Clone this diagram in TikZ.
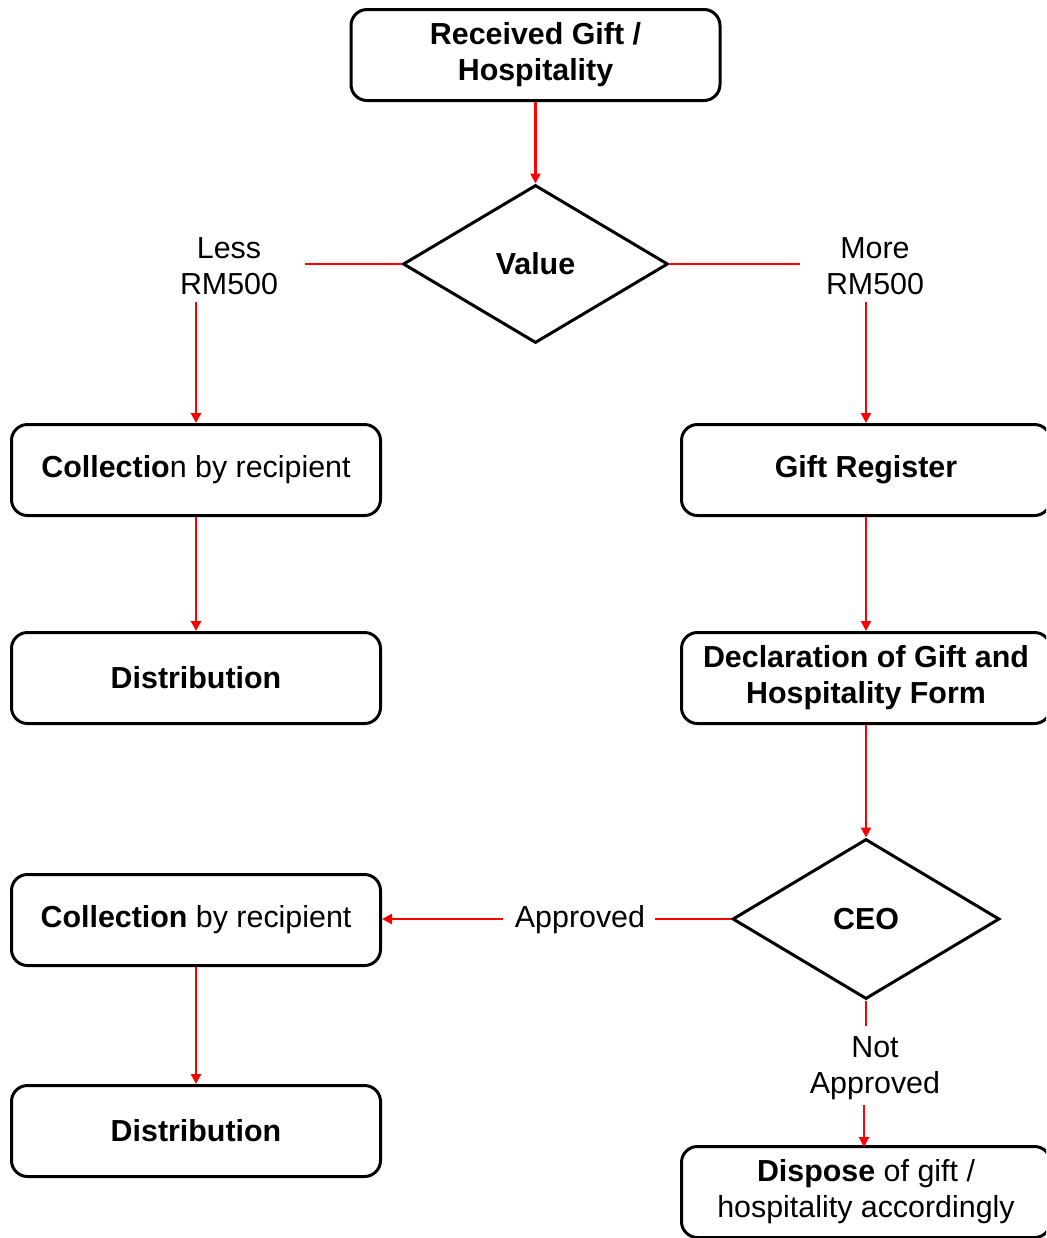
\documentclass[tikz,border=0pt]{standalone}
\usepackage{fontspec}
\setmainfont{Liberation Sans}
\usetikzlibrary{shapes.geometric,arrows.meta}
\begin{document}
\begin{tikzpicture}[x=0.5pt,y=-0.5pt,
  box/.style={draw=black,line width=1.5pt,rounded corners=8pt,fill=white,
    minimum width=184.5pt,minimum height=45.5pt,inner sep=0pt,align=center,
    font=\fontsize{15.2}{18}\selectfont},
  dec/.style={draw=black,line width=1.5pt,diamond,inner sep=0pt,
    font=\fontsize{15.2}{18}\selectfont\bfseries},
  lbl/.style={align=center,inner sep=0pt,font=\fontsize{15.2}{18}\selectfont},
  conn/.style={draw=red,line width=1.4pt},
  arr/.style={conn,-{Triangle[length=5pt,width=5pt]}}]
\useasboundingbox (0,0) rectangle (1046,1238);
\clip (0,0) rectangle (1046,1238);
% nodes
\node[box] (recv) at (535.5,55) {\textbf{Received Gift /}\\\textbf{Hospitality}};
\node[dec,minimum width=132.5pt,minimum height=79pt] (value) at (535.5,264) {Value};
\node[lbl] (less) at (229,266) {Less\\RM500};
\node[lbl] (more) at (875,266) {More\\RM500};
\node[box] (coll1) at (196,470) {\textbf{Collectio}n by recipient};
\node[box] (dist1) at (196,678) {\textbf{Distribution}};
\node[box] (greg) at (866,470) {\textbf{Gift Register}};
\node[box] (decl) at (866,678) {\textbf{Declaration of Gift and}\\\textbf{Hospitality Form}};
\node[dec,minimum width=133.5pt,minimum height=80pt] (ceo) at (866,919) {CEO};
\node[lbl] (appr) at (580,920) {Approved};
\node[lbl] (notappr) at (875,1068) {Not\\Approved};
\node[box] (coll2) at (196,920) {\textbf{Collection} by recipient};
\node[box] (dist2) at (196,1131) {\textbf{Distribution}};
\node[box] (disp) at (866,1192) {\textbf{Dispose} of gift /\\hospitality accordingly};
% helper coordinates
\coordinate (lessE) at (305,264);
\coordinate (lessS) at (196,302);
\coordinate (moreW) at (800,264);
\coordinate (moreS) at (866,302);
\coordinate (apprE) at (655,919);
\coordinate (apprW) at (503,919);
\coordinate (naN) at (866,1026);
\coordinate (naS) at (864,1105);
\coordinate (dispN) at (864,1147);
% connectors
\draw[arr] (recv.south) -- (value.north);
\draw[conn] (value.west) -- (lessE);
\draw[arr] (lessS) -- (coll1.north);
\draw[conn] (value.east) -- (moreW);
\draw[arr] (moreS) -- (greg.north);
\draw[arr] (coll1.south) -- (dist1.north);
\draw[arr] (greg.south) -- (decl.north);
\draw[arr] (decl.south) -- (ceo.north);
\draw[conn] (ceo.west) -- (apprE);
\draw[arr] (apprW) -- (apprW -| coll2.east);
\draw[arr] (coll2.south) -- (dist2.north);
\draw[conn] (ceo.south) -- (naN);
\draw[arr] (naS) -- (dispN);
\end{tikzpicture}
\end{document}
